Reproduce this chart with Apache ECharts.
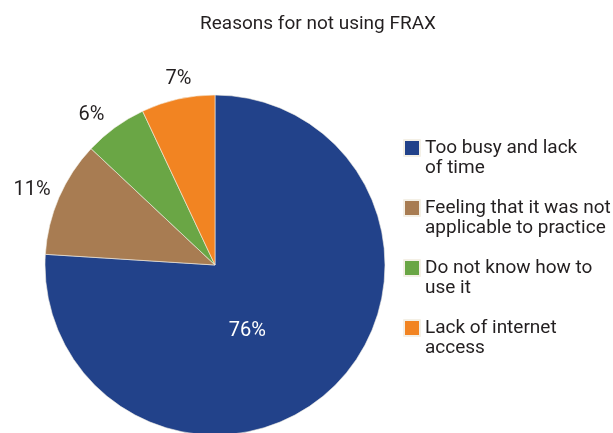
<!DOCTYPE html>
<html>
<head>
<meta charset="utf-8">
<script src="https://cdn.jsdelivr.net/npm/echarts@6/dist/echarts.min.js"></script>
<style>
html,body{margin:0;padding:0;background:#fff;}
#main{width:613px;height:433px;}
</style>
</head>
<body>
<div id="main"></div>
<script>
var categories = ["Too busy and lack\nof time", "Feeling that it was not\napplicable to practice", "Do not know how to\nuse it", "Lack of internet\naccess"];
var values = [76, 11, 6, 7];
var colors = ["#22428a", "#a87c52", "#6aa645", "#f28422"];
var titleText = "Reasons for not using FRAX";

var FONT = "Roboto, 'Liberation Sans', sans-serif";

// small per-label nudges (pixels) to mimic the reference label placement
var labelNudges = [[-28, 2], [1, 2], [-4, 8], [11, 4]];

var chart = echarts.init(document.getElementById('main'));
var data = categories.map(function (c, i) {
  var item = { name: c, value: values[i], itemStyle: { color: colors[i] } };
  if (i === 0) {
    item.label = { position: 'inside', color: '#ffffff' };
  }
  return item;
});
chart.setOption({
  animation: false,
  title: {
    text: titleText,
    left: 313,
    top: 10,
    textAlign: 'center',
    textStyle: { fontFamily: FONT, fontSize: 19, fontWeight: 'normal', color: '#231f20' }
  },
  legend: {
    orient: 'vertical',
    left: 403,
    top: 118,
    padding: 0,
    itemWidth: 16,
    itemHeight: 16,
    itemGap: 0,
    icon: 'rect',
    selectedMode: false,
    data: categories,
    formatter: function (name) { return '\n' + name; },
    textStyle: { fontFamily: FONT, fontSize: 19, color: '#231f20', lineHeight: 20 }
  },
  series: [{
    type: 'pie',
    center: [215, 265],
    radius: 170,
    startAngle: 90,
    clockwise: true,
    data: data,
    itemStyle: { borderColor: '#f4f0e6', borderWidth: 0.6 },
    label: {
      show: true,
      position: 'outside',
      formatter: '{c}%',
      fontFamily: FONT,
      fontSize: 20,
      color: '#231f20',
      overflow: 'none'
    },
    labelLine: { show: false, length: 25, length2: 0 },
    labelLayout: function (p) {
      var n = labelNudges[p.dataIndex];
      var o = { dx: n[0], dy: n[1] };
      if (p.dataIndex !== 0) o.align = 'center';
      return o;
    },
    emphasis: { disabled: true }
  }]
});
</script>
</body>
</html>
